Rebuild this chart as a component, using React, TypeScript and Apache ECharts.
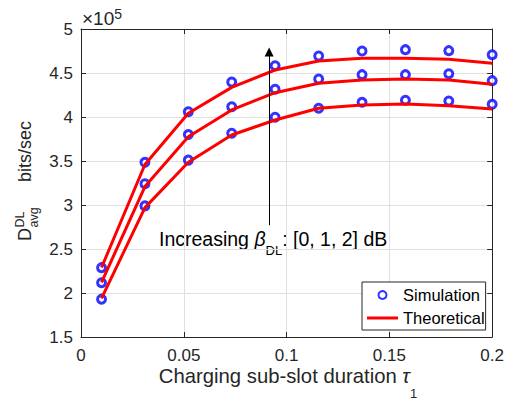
import React, { useEffect, useRef } from 'react';
import * as echarts from 'echarts';

// Charging sub-slot duration tau_1
const tau = [0.01, 0.0311, 0.0522, 0.0733, 0.0944, 0.1156, 0.1367, 0.1578, 0.1789, 0.2];

// Average DL throughput, in units of 1e5 bits/sec
const sim0dB = [1.93, 2.99, 3.51, 3.815, 3.997, 4.1, 4.167, 4.19, 4.182, 4.144];
const sim1dB = [2.117, 3.242, 3.8, 4.117, 4.315, 4.432, 4.481, 4.481, 4.492, 4.413];
const sim2dB = [2.288, 3.485, 4.06, 4.398, 4.583, 4.693, 4.75, 4.765, 4.754, 4.708];
const theo0dB = [1.94, 2.97, 3.485, 3.795, 3.966, 4.099, 4.136, 4.148, 4.129, 4.09];
const theo1dB = [2.12, 3.21, 3.776, 4.08, 4.276, 4.383, 4.42, 4.432, 4.42, 4.372];
const theo2dB = [2.29, 3.46, 4.042, 4.337, 4.534, 4.636, 4.667, 4.667, 4.655, 4.61];

const xTicks = [0, 0.05, 0.1, 0.15, 0.2];
const yTicks = [1.5, 2, 2.5, 3, 3.5, 4, 4.5, 5];

// annotation arrow (data coordinates)
const ARROW_X = 0.0915;
const ARROW_Y_FROM = 2.77;
const ARROW_Y_TO = 4.74;

const FONT = 'Liberation Sans, Arial, Helvetica, sans-serif';
const AX = '#262626';
const BLUE = '#0000ff';
const RED = '#ff0000';

const pairs = (ys: number[]) => tau.map((x, i) => [x, ys[i]]);

type Piece = { t: string; size: number; italic?: boolean; dy?: number };

let measureCtx: CanvasRenderingContext2D | null = null;
function measure(t: string, size: number, italic?: boolean) {
  if (!measureCtx) measureCtx = document.createElement('canvas').getContext('2d');
  if (!measureCtx) return t.length * size * 0.55;
  measureCtx.font = `${italic ? 'italic ' : ''}${size}px ${FONT}`;
  return measureCtx.measureText(t).width;
}

// builds a horizontal run of text pieces; y of each piece = its vertical center
function run(list: Piece[], color: string) {
  let x = 0;
  const children: any[] = [];
  for (const p of list) {
    children.push({
      type: 'text',
      x,
      y: p.dy || 0,
      silent: true,
      style: {
        text: p.t,
        fill: color,
        font: `${p.italic ? 'italic ' : ''}${p.size}px ${FONT}`,
        lineHeight: Math.round(p.size * 0.8),
        align: 'left',
        verticalAlign: 'middle',
        textAlign: 'left',
        textVerticalAlign: 'middle',
      },
    });
    x += measure(p.t, p.size, p.italic);
  }
  return { children, width: x };
}

export default function App() {
  const ref = useRef<HTMLDivElement>(null);
  useEffect(() => {
    const chart = echarts.init(ref.current!, null, { renderer: 'svg' });
    const xMin = xTicks[0], xMax = xTicks[xTicks.length - 1];
    const yMin = yTicks[0], yMax = yTicks[yTicks.length - 1];
    const xInt = xTicks[1] - xTicks[0];
    const yInt = yTicks[1] - yTicks[0];

    const baseAxisLine = { show: true, onZero: false, lineStyle: { color: AX, width: 1 } };
    const baseTick = { show: true, inside: true, length: 5, lineStyle: { color: AX, width: 1 } };

    const simSeries = [sim0dB, sim1dB, sim2dB].map((d) => ({
      type: 'scatter',
      name: 'Simulation',
      data: pairs(d),
      symbol: 'circle',
      symbolSize: 8,
      itemStyle: { color: '#ffffff', borderColor: BLUE, borderWidth: 3 },
      z: 2,
      silent: true,
    }));
    const theoSeries: any[] = [theo0dB, theo1dB, theo2dB].map((d) => ({
      type: 'line',
      name: 'Theoretical',
      data: pairs(d),
      symbol: 'none',
      showSymbol: false,
      lineStyle: { color: RED, width: 3 },
      itemStyle: { color: RED },
      z: 3,
      silent: true,
    }));
    theoSeries[0].markLine = {
      silent: true,
      animation: false,
      symbol: ['none', 'triangle'],
      symbolSize: 9,
      lineStyle: { color: '#000', width: 1, type: 'solid' },
      itemStyle: { color: '#000' },
      label: { show: false },
      emphasis: { disabled: true },
      data: [[{ coord: [ARROW_X, ARROW_Y_FROM] }, { coord: [ARROW_X, ARROW_Y_TO] }]],
    };

    const expo = run([
      { t: '×10', size: 19 },
      { t: '5', size: 14, dy: -4.7 },
    ], AX);
    const annot = run([
      { t: 'Increasing ', size: 19.5 },
      { t: 'β', size: 19.5, italic: true },
      { t: 'DL', size: 13, dy: 11 },
      { t: ': [0, 1, 2] dB', size: 19.5 },
    ], '#000');
    const xName = run([
      { t: 'Charging sub-slot duration ', size: 20.3 },
      { t: 'τ', size: 20.3, italic: true },
      { t: '1', size: 13, dy: 18 },
    ], AX);

    chart.setOption({
      animation: false,
      backgroundColor: '#ffffff',
      grid: { left: 81, top: 29, right: 12, bottom: 68, containLabel: false },
      xAxis: [
        {
          type: 'value', min: xMin, max: xMax, interval: xInt, position: 'bottom',
          axisLine: baseAxisLine, axisTick: baseTick,
          axisLabel: { color: AX, fontSize: 17, fontFamily: FONT, margin: 10, showMinLabel: true, showMaxLabel: true },
          splitLine: { show: true, lineStyle: { color: '#e0e0e0', width: 1 } },
        },
        {
          type: 'value', min: xMin, max: xMax, interval: xInt, position: 'top',
          axisLine: baseAxisLine, axisTick: baseTick,
          axisLabel: { show: false }, splitLine: { show: false },
        },
      ],
      yAxis: [
        {
          type: 'value', min: yMin, max: yMax, interval: yInt, position: 'left',
          axisLine: baseAxisLine, axisTick: baseTick,
          axisLabel: { color: AX, fontSize: 17, fontFamily: FONT, margin: 8, showMinLabel: true, showMaxLabel: true },
          splitLine: { show: true, lineStyle: { color: '#e0e0e0', width: 1 } },
        },
        {
          type: 'value', min: yMin, max: yMax, interval: yInt, position: 'right',
          axisLine: baseAxisLine, axisTick: baseTick,
          axisLabel: { show: false }, splitLine: { show: false },
        },
      ],
      legend: {
        data: [
          { name: 'Simulation' },
          { name: 'Theoretical', icon: 'path://M0,0h31v3h-31z', itemStyle: { color: RED } },
        ],
        orient: 'vertical',
        left: 362,
        top: 282,
        itemWidth: 31,
        itemHeight: 8,
        itemGap: 3,
        padding: [3, 1, 2, 5],
        backgroundColor: '#ffffff',
        borderColor: AX,
        borderWidth: 1,
        borderRadius: 0,
        selectedMode: false,
        textStyle: { color: '#000', fontSize: 16.5, fontFamily: FONT, lineHeight: 20 },
      },
      series: [...simSeries, ...theoSeries],
      graphic: [
        { type: 'group', x: 82, y: 18.4, silent: true, children: expo.children },
        { type: 'group', x: 159, y: 239.4, silent: true, children: annot.children },
        { type: 'group', x: 288 - xName.width / 2, y: 375.5, silent: true, children: xName.children },
        {
          type: 'group', x: 31, y: 241, rotation: Math.PI / 2, silent: true,
          children: [
            { type: 'text', x: 0, y: -6.3, style: { text: 'D', fill: AX, font: `18px ${FONT}`, align: 'left', verticalAlign: 'middle', textAlign: 'left', textVerticalAlign: 'middle' } },
            { type: 'text', x: 13.5, y: -11.5, style: { text: 'DL', fill: AX, font: `12.5px ${FONT}`, align: 'left', verticalAlign: 'middle', textAlign: 'left', textVerticalAlign: 'middle' } },
            { type: 'text', x: 13.5, y: 2.5, style: { text: 'avg', fill: AX, font: `12.5px ${FONT}`, align: 'left', verticalAlign: 'middle', textAlign: 'left', textVerticalAlign: 'middle' } },
            { type: 'text', x: 59, y: -6.3, style: { text: 'bits/sec', fill: AX, font: `18px ${FONT}`, align: 'left', verticalAlign: 'middle', textAlign: 'left', textVerticalAlign: 'middle' } },
          ],
        },
      ],
    });
    return () => chart.dispose();
  }, []);
  return <div ref={ref} style={{ position: 'fixed', left: 0, top: 0, width: 507, height: 405 }} />;
}
